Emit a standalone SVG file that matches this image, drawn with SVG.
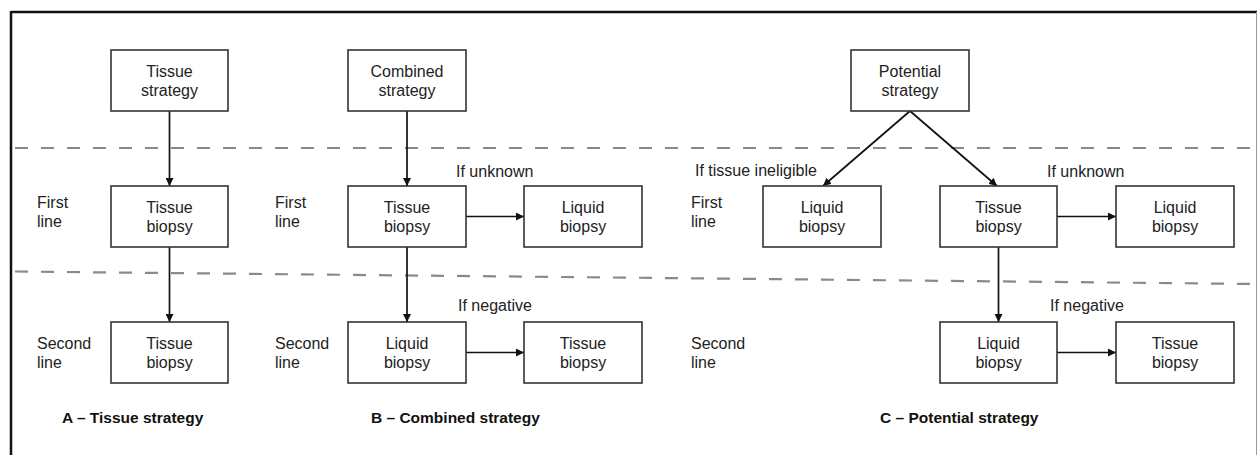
<svg xmlns="http://www.w3.org/2000/svg" width="1258" height="455" viewBox="0 0 1258 455">
<defs>
<marker id="ah" viewBox="0 0 10 10" refX="10" refY="5" markerWidth="8" markerHeight="8" markerUnits="userSpaceOnUse" orient="auto">
<path d="M0,0 L10,5 L0,10 Z" fill="#111"/>
</marker>
<style>
.box{fill:#fff;stroke:#333;stroke-width:1.6}
.t{font-family:"Liberation Sans",Arial,sans-serif;font-size:16px;fill:#222}
.c{text-anchor:middle}
.b{font-weight:bold;fill:#111;font-size:15.5px}
.con{stroke:#111;stroke-width:1.7;fill:none;marker-end:url(#ah)}
.dash{stroke:#8a8a8a;stroke-width:2.2;stroke-dasharray:13 13;fill:none}
</style>
</defs>
<rect width="1258" height="455" fill="#fff"/>
<g id="frame">
<line x1="11" y1="12" x2="1257" y2="12" stroke="#111" stroke-width="2.4"/>
<line x1="11" y1="11" x2="11" y2="455" stroke="#111" stroke-width="2.5"/>
<line x1="1256.5" y1="12" x2="1256.5" y2="455" stroke="#999" stroke-width="1"/>
</g>
<g id="dividers">
<line class="dash" x1="15" y1="148" x2="1258" y2="148"/>
<line class="dash" x1="15" y1="271.5" x2="1258" y2="284"/>
</g>
<g id="row-labels" class="t">
<text x="37" y="208">First</text><text x="37" y="227">line</text>
<text x="37" y="349">Second</text><text x="37" y="368">line</text>
<text x="275" y="208">First</text><text x="275" y="227">line</text>
<text x="275" y="349">Second</text><text x="275" y="368">line</text>
<text x="691" y="208">First</text><text x="691" y="227">line</text>
<text x="691" y="349">Second</text><text x="691" y="368">line</text>
</g>
<g id="connectors">
<line class="con" x1="169.5" y1="111" x2="169.5" y2="186"/>
<line class="con" x1="169.5" y1="247" x2="169.5" y2="322"/>
<line class="con" x1="407" y1="111" x2="407" y2="186"/>
<line class="con" x1="466" y1="216.5" x2="524" y2="216.5"/>
<line class="con" x1="407" y1="247" x2="407" y2="322"/>
<line class="con" x1="466" y1="352.5" x2="524" y2="352.5"/>
<line class="con" x1="910" y1="111" x2="823" y2="186"/>
<line class="con" x1="910" y1="111" x2="997" y2="186"/>
<line class="con" x1="1057" y1="216.5" x2="1116" y2="216.5"/>
<line class="con" x1="998.5" y1="247" x2="998.5" y2="322"/>
<line class="con" x1="1057" y1="352.5" x2="1116" y2="352.5"/>
</g>
<g id="edge-labels" class="t">
<text x="456" y="177">If unknown</text>
<text x="458" y="311">If negative</text>
<text x="695" y="176">If tissue ineligible</text>
<text x="1047" y="177">If unknown</text>
<text x="1050" y="311">If negative</text>
</g>
<g id="a-top"><rect class="box" x="111" y="50" width="117" height="61"/><text class="t c" x="169.5" y="77">Tissue</text><text class="t c" x="169.5" y="96">strategy</text></g>
<g id="a-first"><rect class="box" x="111" y="186" width="117" height="61"/><text class="t c" x="169.5" y="213">Tissue</text><text class="t c" x="169.5" y="232">biopsy</text></g>
<g id="a-second"><rect class="box" x="111" y="322" width="117" height="61"/><text class="t c" x="169.5" y="349">Tissue</text><text class="t c" x="169.5" y="368">biopsy</text></g>
<g id="b-top"><rect class="box" x="348" y="50" width="118" height="61"/><text class="t c" x="407" y="77">Combined</text><text class="t c" x="407" y="96">strategy</text></g>
<g id="b-first"><rect class="box" x="348" y="186" width="118" height="61"/><text class="t c" x="407" y="213">Tissue</text><text class="t c" x="407" y="232">biopsy</text></g>
<g id="b-first-liquid"><rect class="box" x="524" y="186" width="118" height="61"/><text class="t c" x="583" y="213">Liquid</text><text class="t c" x="583" y="232">biopsy</text></g>
<g id="b-second"><rect class="box" x="348" y="322" width="118" height="61"/><text class="t c" x="407" y="349">Liquid</text><text class="t c" x="407" y="368">biopsy</text></g>
<g id="b-second-tissue"><rect class="box" x="524" y="322" width="118" height="61"/><text class="t c" x="583" y="349">Tissue</text><text class="t c" x="583" y="368">biopsy</text></g>
<g id="c-top"><rect class="box" x="851" y="50" width="118" height="61"/><text class="t c" x="910" y="77">Potential</text><text class="t c" x="910" y="96">strategy</text></g>
<g id="c-first-liquid-left"><rect class="box" x="763" y="186" width="118" height="61"/><text class="t c" x="822" y="213">Liquid</text><text class="t c" x="822" y="232">biopsy</text></g>
<g id="c-first"><rect class="box" x="940" y="186" width="117" height="61"/><text class="t c" x="998.5" y="213">Tissue</text><text class="t c" x="998.5" y="232">biopsy</text></g>
<g id="c-first-liquid"><rect class="box" x="1116" y="186" width="118" height="61"/><text class="t c" x="1175" y="213">Liquid</text><text class="t c" x="1175" y="232">biopsy</text></g>
<g id="c-second"><rect class="box" x="940" y="322" width="117" height="61"/><text class="t c" x="998.5" y="349">Liquid</text><text class="t c" x="998.5" y="368">biopsy</text></g>
<g id="c-second-tissue"><rect class="box" x="1116" y="322" width="118" height="61"/><text class="t c" x="1175" y="349">Tissue</text><text class="t c" x="1175" y="368">biopsy</text></g>
<g id="titles" class="t b">
<text x="62" y="423">A – Tissue strategy</text>
<text x="371" y="423">B – Combined strategy</text>
<text x="880" y="423">C – Potential strategy</text>
</g>
</svg>
